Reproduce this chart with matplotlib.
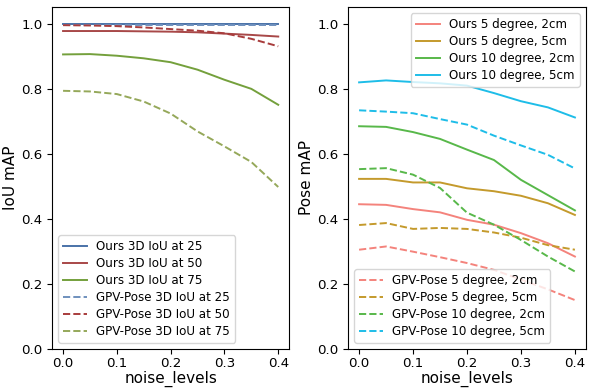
import numpy as np
import matplotlib.pyplot as plt

# ==========================================
# DATA
# ==========================================

noise_levels = [0.0, 0.05, 0.1, 0.15, 0.2, 0.25, 0.3, 0.35, 0.4]

# IoU mAP
ours_iou25 = [0.998, 0.998, 0.998, 0.998, 0.998, 0.998, 0.998, 0.998, 0.998]
ours_iou50 = [0.977, 0.977, 0.977, 0.976, 0.975, 0.973, 0.969, 0.965, 0.960]
ours_iou75 = [0.905, 0.906, 0.901, 0.893, 0.881, 0.858, 0.827, 0.799, 0.750]
gpv_iou25 = [0.996, 0.996, 0.996, 0.996, 0.996, 0.996, 0.996, 0.996, 0.996]
gpv_iou50 = [0.995, 0.994, 0.992, 0.988, 0.983, 0.978, 0.970, 0.953, 0.930]
gpv_iou75 = [0.793, 0.791, 0.783, 0.760, 0.723, 0.668, 0.622, 0.574, 0.497]

# Pose mAP
ours_5d2 = [0.444, 0.442, 0.429, 0.419, 0.396, 0.381, 0.355, 0.324, 0.283]
ours_5d5 = [0.522, 0.522, 0.511, 0.511, 0.493, 0.484, 0.470, 0.447, 0.411]
ours_10d2 = [0.684, 0.682, 0.666, 0.645, 0.612, 0.580, 0.519, 0.472, 0.425]
ours_10d5 = [0.819, 0.825, 0.820, 0.816, 0.809, 0.786, 0.761, 0.742, 0.711]
gpv_5d2 = [0.304, 0.314, 0.298, 0.281, 0.263, 0.242, 0.212, 0.182, 0.149]
gpv_5d5 = [0.380, 0.386, 0.368, 0.371, 0.368, 0.357, 0.341, 0.318, 0.304]
gpv_10d2 = [0.552, 0.555, 0.535, 0.494, 0.418, 0.381, 0.334, 0.283, 0.237]
gpv_10d5 = [0.733, 0.729, 0.724, 0.706, 0.689, 0.655, 0.625, 0.596, 0.554]

# ==========================================
# FIGURE
# ==========================================

W, H = 598, 392
fig = plt.figure(figsize=(W / 100, H / 100), dpi=100)

ax1 = fig.add_axes([52.3 / W, (H - 348.5) / H, 236.7 / W, 341.2 / H])
ax2 = fig.add_axes([348.3 / W, (H - 348.5) / H, 237.4 / W, 341.2 / H])

lw = 1.4
leg_kw = dict(fontsize=8.6, labelspacing=0.33)

# left: IoU
ax1.plot(noise_levels, ours_iou25, color='#4a72a8', lw=lw, label='Ours 3D IoU at 25')
ax1.plot(noise_levels, ours_iou50, color='#a84848', lw=lw, label='Ours 3D IoU at 50')
ax1.plot(noise_levels, ours_iou75, color='#74a03c', lw=lw, label='Ours 3D IoU at 75')
ax1.plot(noise_levels, gpv_iou25, color='#6f90bd', lw=lw, ls='--', label='GPV-Pose 3D IoU at 25')
ax1.plot(noise_levels, gpv_iou50, color='#a83c3c', lw=lw, ls='--', label='GPV-Pose 3D IoU at 50')
ax1.plot(noise_levels, gpv_iou75, color='#95a85a', lw=lw, ls='--', label='GPV-Pose 3D IoU at 75')

ax1.set_ylabel('IoU mAP', fontsize=11, labelpad=2.5)
ax1.legend(loc='lower left', **leg_kw)

# right: Pose
l1, = ax2.plot(noise_levels, ours_5d2, color='#f4837c', lw=lw, label='Ours 5 degree, 2cm')
l2, = ax2.plot(noise_levels, ours_5d5, color='#c49a2c', lw=lw, label='Ours 5 degree, 5cm')
l3, = ax2.plot(noise_levels, ours_10d2, color='#58b84a', lw=lw, label='Ours 10 degree, 2cm')
l4, = ax2.plot(noise_levels, ours_10d5, color='#1ebde8', lw=lw, label='Ours 10 degree, 5cm')
g1, = ax2.plot(noise_levels, gpv_5d2, color='#f4837c', lw=lw, ls='--', label='GPV-Pose 5 degree, 2cm')
g2, = ax2.plot(noise_levels, gpv_5d5, color='#c49a2c', lw=lw, ls='--', label='GPV-Pose 5 degree, 5cm')
g3, = ax2.plot(noise_levels, gpv_10d2, color='#58b84a', lw=lw, ls='--', label='GPV-Pose 10 degree, 2cm')
g4, = ax2.plot(noise_levels, gpv_10d5, color='#1ebde8', lw=lw, ls='--', label='GPV-Pose 10 degree, 5cm')

ax2.set_ylabel('Pose mAP', fontsize=11, labelpad=2.5)
leg_top = ax2.legend(handles=[l1, l2, l3, l4], loc='upper right', **leg_kw)
ax2.add_artist(leg_top)
ax2.legend(handles=[g1, g2, g3, g4], loc='lower left', **leg_kw)

for ax in (ax1, ax2):
    ax.set_ylim(0, 1.05)
    ax.set_xlabel('noise_levels', fontsize=11, labelpad=1)
    ax.set_xticks([0.0, 0.1, 0.2, 0.3, 0.4])
    ax.set_yticks([0.0, 0.2, 0.4, 0.6, 0.8, 1.0])
    ax.tick_params(labelsize=9.6)
    ax.tick_params(axis='x', pad=2.5)

fig.savefig('out.png', dpi=100)
